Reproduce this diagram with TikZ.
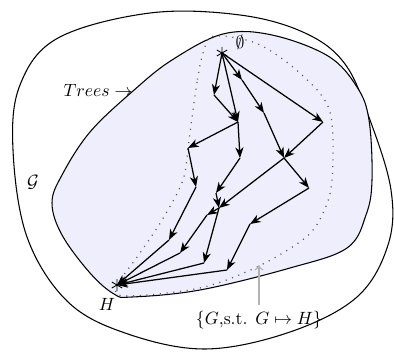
\documentclass[tikz,border=0pt]{standalone}
\usetikzlibrary{arrows.meta}
\definecolor{setfill}{RGB}{238,238,252}
\begin{document}
\begin{tikzpicture}[x=0.5635pt,y=-0.5635pt,
  edge/.style={line width=0.7pt,-{Stealth[length=6pt,width=4.6pt,inset=1.8pt]}},
  curve/.style={line width=0.6pt},
  dotline/.style={line width=0.7pt,dash pattern=on 0.6pt off 3.2pt,gray!70!black},
  astk/.style={line width=0.5pt},
  pointer/.style={gray!60,line width=0.6pt,-{To[length=3pt,width=5pt]}}]
\useasboundingbox (0,0) rectangle (394,351);
% outer set G
\draw[curve] plot[smooth cycle,tension=0.6] coordinates {
  (13,150) (20,85) (58,38) (150,13) (240,15) (305,33) (345,64) (370,120)
  (391,190) (388,245) (357,297) (290,332) (205,349) (125,333) (67,301) (27,237)};
% shaded region
\draw[curve,fill=setfill] plot[smooth cycle,tension=0.6] coordinates {
  (62,175) (90,132) (133,91) (172,60) (223,34) (272,35) (328,56) (357,87)
  (369,120) (372,180) (366,215) (347,248) (290,268) (200,290) (132,297)
  (114,294) (90,273) (62,235) (52,203)};
% dotted region
\draw[dotline] plot[smooth cycle,tension=0.55] coordinates {
  (204,50) (197,82) (189,140) (183,180) (162,220) (140,253) (117,286)
  (126,296) (200,288) (257,267) (305,238) (323,213) (332,180) (330,112)
  (302,75) (258,44) (214,36)};
% nodes
\coordinate (S) at (222,53);
\coordinate (v1) at (214,95);
\coordinate (A) at (238,122);
\coordinate (C) at (188,148);
\coordinate (D) at (240,158);
\coordinate (E) at (196,187);
\coordinate (F) at (216,193);
\coordinate (G) at (219,208);
\coordinate (K) at (207,215);
\coordinate (L) at (180,253);
\coordinate (M) at (169,240);
\coordinate (N) at (204,263);
\coordinate (b1) at (242,80);
\coordinate (b2) at (264,113);
\coordinate (B) at (284,158);
\coordinate (T) at (323,122);
\coordinate (P) at (309,188);
\coordinate (Q) at (250,224);
\coordinate (R) at (227,270);
\coordinate (H) at (117,285);
% edges
\foreach \a/\b in {S/v1,v1/A,S/A,A/C,A/D,C/E,E/M,D/F,F/G,G/K,K/L,G/N,
  S/b1,b1/b2,b2/B,S/T,T/B,B/G,B/P,P/Q,Q/R,M/H,L/H,N/H,R/H}
  \draw[edge] (\a) -- (\b);
% asterisks
\draw[astk] (S) +(90:6) -- +(270:6) (S) +(30:6) -- +(210:6) (S) +(150:6) -- +(330:6);
\draw[astk] (H) +(90:6) -- +(270:6) (H) +(30:6) -- +(210:6) (H) +(150:6) -- +(330:6);
% labels
\node (lempty) at (240,42) {$\emptyset$};
\node (lH) at (107,304) {$H$};
\node (lG) at (33,182) {$\mathcal{G}$};
\node (ltrees) at (98,90) {$Trees\rightarrow$};
\node (lset) at (259,320) {$\{G$,s.t. $G\mapsto H\}$};
\coordinate (pt) at (259,265);
\draw[pointer] (lset.north) -- (pt);
\end{tikzpicture}
\end{document}
